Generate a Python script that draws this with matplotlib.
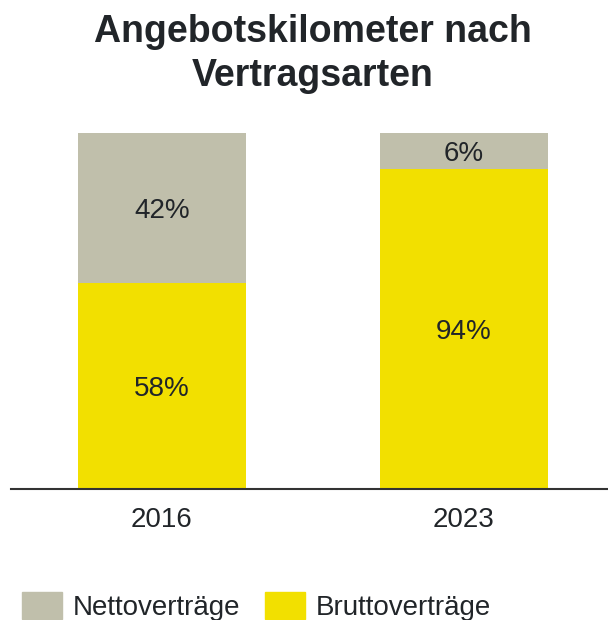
import matplotlib.pyplot as plt
from matplotlib.patches import Patch

plt.rcParams['font.family'] = ['Liberation Sans', 'DejaVu Sans']

years = ['2016', '2023']
# segment heights as drawn in the reference, labels as printed
brutto = [58, 90]
netto = [42, 10]
brutto_labels = ['58%', '94%']
netto_labels = ['42%', '6%']
series_names = ['Nettoverträge', 'Bruttoverträge']

gray = '#c0bfab'
yellow = '#f2e000'
text_col = '#212529'

fig = plt.figure(figsize=(6.08, 6.2), dpi=100)
ax = fig.add_axes([11 / 608, 1 - 489 / 620, 597 / 608, 356 / 620])

x = range(len(years))
ax.bar(x, brutto, width=0.556, color=yellow, zorder=2)
ax.bar(x, netto, width=0.556, bottom=brutto, color=gray, zorder=2)

for i in x:
    ax.text(i, brutto[i] / 2, brutto_labels[i], ha='center', va='center_baseline',
            fontsize=20, color=text_col)
    ax.text(i, brutto[i] + netto[i] / 2, netto_labels[i], ha='center',
            va='center_baseline', fontsize=20, color=text_col)

ax.set_xlim(-0.5, 1.477)
ax.set_ylim(0, 100)
ax.set_xticks(list(x))
ax.set_xticklabels(years, fontsize=20, color=text_col)
ax.tick_params(axis='x', length=0, pad=13)
ax.set_yticks([])
for s in ['top', 'right', 'left']:
    ax.spines[s].set_visible(False)
ax.spines['bottom'].set_color('#333333')
ax.spines['bottom'].set_linewidth(1.5)
ax.spines['bottom'].set_zorder(3)

fig.text(313 / 608, 1 - 54 / 620, 'Angebotskilometer nach\nVertragsarten',
         ha='center', va='center', fontsize=27, fontweight='bold',
         color=text_col, linespacing=1.3)

handles = [Patch(color=gray), Patch(color=yellow)]
fig.legend(handles, series_names, loc='lower left',
           bbox_to_anchor=(22 / 608, -1 / 620), ncol=2, frameon=False,
           fontsize=20, handlelength=1.44, handleheight=1.15,
           handletextpad=0.4, columnspacing=0.86, borderpad=0,
           borderaxespad=0, labelcolor=text_col)

fig.savefig('out.png', dpi=100)
